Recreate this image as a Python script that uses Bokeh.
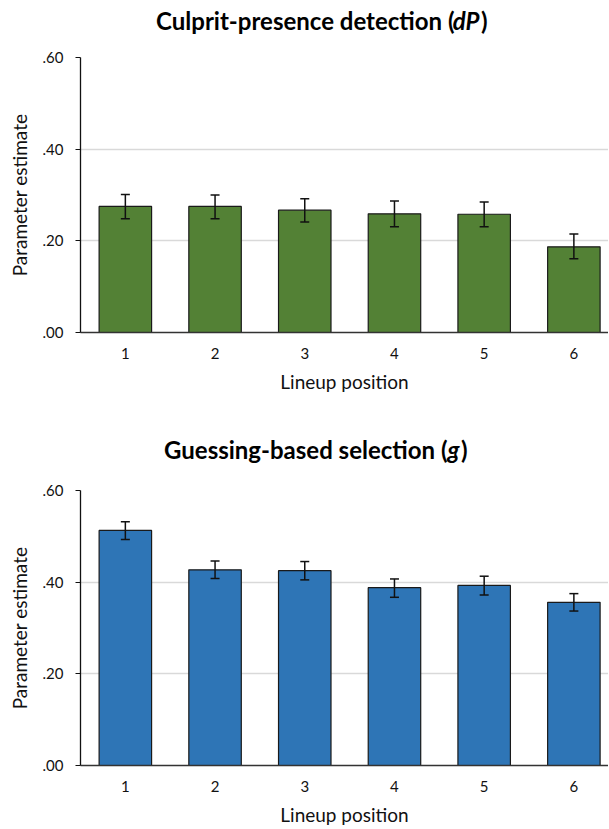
from bokeh.plotting import figure
from bokeh.models import (ColumnDataSource, Range1d, FixedTicker, CustomJSTickFormatter,
                          Whisker, TeeHead, Label)
from bokeh.layouts import column
from bokeh.embed import file_html
from bokeh.resources import INLINE

# ---- data ----
positions = [1, 2, 3, 4, 5, 6]
position_labels = ["1", "2", "3", "4", "5", "6"]

dp_est = [0.275, 0.275, 0.267, 0.259, 0.258, 0.187]
dp_lower = [0.248, 0.248, 0.241, 0.231, 0.231, 0.161]
dp_upper = [0.301, 0.300, 0.292, 0.287, 0.285, 0.215]

g_est = [0.513, 0.427, 0.425, 0.388, 0.393, 0.356]
g_lower = [0.493, 0.408, 0.405, 0.367, 0.372, 0.337]
g_upper = [0.532, 0.446, 0.445, 0.407, 0.413, 0.375]

y_ticks = [0.0, 0.2, 0.4, 0.6]

FONT = "Lato"
WIDTH = 608


def make_title(parts, height, baseline_y):
    t = figure(width=WIDTH, height=height, output_backend="svg", toolbar_location=None,
               x_range=Range1d(0, WIDTH), y_range=Range1d(0, height),
               min_border=0, x_axis_type=None, y_axis_type=None)
    t.outline_line_color = None
    t.xgrid.grid_line_color = None
    t.ygrid.grid_line_color = None
    for text, x, style in parts:
        t.add_layout(Label(x=x, y=baseline_y, x_units="screen", y_units="screen", text=text,
                           text_font=FONT, text_font_size="24px", text_font_style=style,
                           text_align="right", text_baseline="alphabetic",
                           text_color="#000000"))
    return t


def make_panel(est, lo, hi, color, height, bottom_border):
    src = ColumnDataSource(dict(x=positions, top=est, lower=lo, upper=hi))
    p = figure(width=WIDTH, height=height, output_backend="svg", toolbar_location=None,
               x_range=Range1d(0.5, 6.386), y_range=Range1d(0, 0.6),
               min_border_left=80, min_border_right=0, min_border_top=8,
               min_border_bottom=bottom_border)
    p.outline_line_color = None
    p.background_fill_color = "white"

    p.vbar(x="x", top="top", bottom=0, width=0.585, source=src,
           fill_color=color, line_color="#1a1a1a", line_width=1.2)

    w = Whisker(base="x", upper="upper", lower="lower", source=src,
                line_color="#111111", line_width=1.5, level="overlay",
                upper_head=TeeHead(size=9, line_color="#111111", line_width=1.5),
                lower_head=TeeHead(size=9, line_color="#111111", line_width=1.5))
    p.add_layout(w)

    # x axis
    p.xaxis.ticker = FixedTicker(ticks=positions)
    p.xaxis.major_label_overrides = {i: s for i, s in zip(positions, position_labels)}
    p.xaxis.major_tick_out = 0
    p.xaxis.major_tick_in = 0
    p.xaxis.minor_tick_line_color = None
    p.xaxis.axis_line_color = "#333333"
    p.xaxis.axis_line_width = 1.5
    p.xaxis.axis_label = "Lineup position"
    p.xaxis.axis_label_text_font = FONT
    p.xaxis.axis_label_text_font_size = "19px"
    p.xaxis.axis_label_text_font_style = "normal"
    p.xaxis.axis_label_text_color = "#111111"
    p.xaxis.axis_label_standoff = 8
    p.xaxis.major_label_text_font = FONT
    p.xaxis.major_label_text_font_size = "15px"
    p.xaxis.major_label_text_color = "#111111"
    p.xaxis.major_label_standoff = 15
    p.xgrid.grid_line_color = None

    # y axis
    p.yaxis.ticker = FixedTicker(ticks=y_ticks)
    p.yaxis.formatter = CustomJSTickFormatter(code="return tick.toFixed(2).replace(/^0/, '');")
    p.yaxis.major_tick_out = 5
    p.yaxis.major_tick_in = 0
    p.yaxis.minor_tick_line_color = None
    p.yaxis.axis_line_color = "#111111"
    p.yaxis.axis_line_width = 1.3
    p.yaxis.major_tick_line_color = "#111111"
    p.yaxis.axis_label = "Parameter estimate"
    p.yaxis.axis_label_text_font = FONT
    p.yaxis.axis_label_text_font_size = "19px"
    p.yaxis.axis_label_text_font_style = "normal"
    p.yaxis.axis_label_text_color = "#111111"
    p.yaxis.axis_label_standoff = 9
    p.yaxis.major_label_text_font = FONT
    p.yaxis.major_label_text_font_size = "15px"
    p.yaxis.major_label_text_color = "#111111"
    p.yaxis.major_label_standoff = 12
    p.ygrid.grid_line_color = "#d9d9d9"
    p.ygrid.grid_line_width = 1.5
    return p


title_top = make_title([("Culprit-presence detection (", 374, "bold"),
                        ("dP", 399, "bold italic"),
                        (")", 407, "bold")], height=49, baseline_y=29.5)
top = make_panel(dp_est, dp_lower, dp_upper, "#538135", height=384, bottom_border=101)

title_bottom = make_title([("Guessing-based selection (", 367, "bold"),
                           ("g", 379, "bold italic"),
                           (")", 387, "bold")], height=49, baseline_y=33)
bottom = make_panel(g_est, g_lower, g_upper, "#2E75B6", height=346, bottom_border=63)

layout = column(title_top, top, title_bottom, bottom, spacing=0)

with open("out.html", "w") as f:
    f.write(file_html(layout, INLINE))
